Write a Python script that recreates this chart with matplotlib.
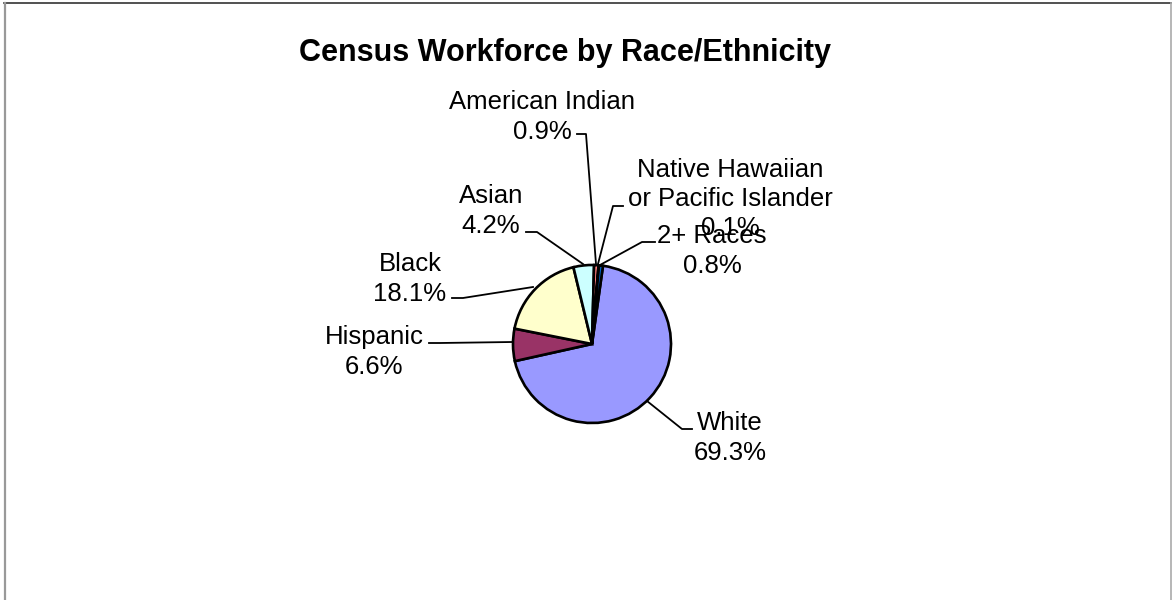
import matplotlib
matplotlib.use("Agg")
import matplotlib.pyplot as plt
from matplotlib.lines import Line2D

plt.rcParams['font.family'] = ['Liberation Sans', 'DejaVu Sans']

categories = ["White", "Hispanic", "Black", "Asian", "American Indian",
              "Native Hawaiian\nor Pacific Islander", "2+ Races"]
values = [69.3, 6.6, 18.1, 4.2, 0.9, 0.1, 0.8]
colors = ["#9999FF", "#993366", "#FFFFCC", "#CCFFFF", "#FF8080", "#660066", "#0066CC"]
title = "Census Workforce by Race/Ethnicity"

W, H = 1173, 600
fig = plt.figure(figsize=(W / 100, H / 100), dpi=100)
ax = fig.add_axes([0, 0, 1, 1])

def Y(y):
    return H - y

cx, cy, r = 592, 344, 79
ax.pie(values, colors=colors, startangle=82, counterclock=False,
       center=(cx, Y(cy)), radius=r, frame=True,
       wedgeprops=dict(edgecolor="black", linewidth=1.9))
ax.set_xlim(0, W)
ax.set_ylim(0, H)
ax.set_aspect("auto")
ax.axis("off")

# label text positions (pixel centers) and leader lines
label_pos = {
    "White": (730, 438),
    "Hispanic": (374, 352),
    "Black": (410, 279),
    "Asian": (491, 211),
    "American Indian": (542, 117),
    "Native Hawaiian\nor Pacific Islander": (730, 199),
    "2+ Races": (712, 251),
}
leaders = {
    "White": [(692, 429), (682, 429), (647, 401)],
    "Hispanic": [(429, 343), (440, 343), (512, 342)],
    "Black": [(452, 298), (463, 298), (533, 287)],
    "Asian": [(526, 232), (537, 232), (583, 264)],
    "American Indian": [(577, 134), (586, 134), (596, 264)],
    "Native Hawaiian\nor Pacific Islander": [(623, 206), (613, 206), (598, 264)],
    "2+ Races": [(655, 242), (642, 242), (600, 265)],
}

for cat, val in zip(categories, values):
    x, y = label_pos[cat]
    ax.text(x, Y(y), cat + "\n" + f"{val:.1f}%", ha="center", va="center",
            fontsize=18.5, linespacing=1.28)
    pts = leaders[cat]
    ax.add_line(Line2D([p[0] for p in pts], [Y(p[1]) for p in pts],
                       color="black", linewidth=1.3))

ax.text(565, Y(53), title, ha="center", va="center", fontsize=22,
        fontweight="bold")

# chart frame
ax.add_line(Line2D([4, 1171], [Y(3), Y(3)], color="#333333", linewidth=1.2))
ax.add_line(Line2D([4.5, 4.5], [Y(3), 0], color="#999999", linewidth=1.6))
ax.add_line(Line2D([1171, 1171], [Y(3), 0], color="#aaaaaa", linewidth=1.2))

fig.savefig("out.png", dpi=100)
